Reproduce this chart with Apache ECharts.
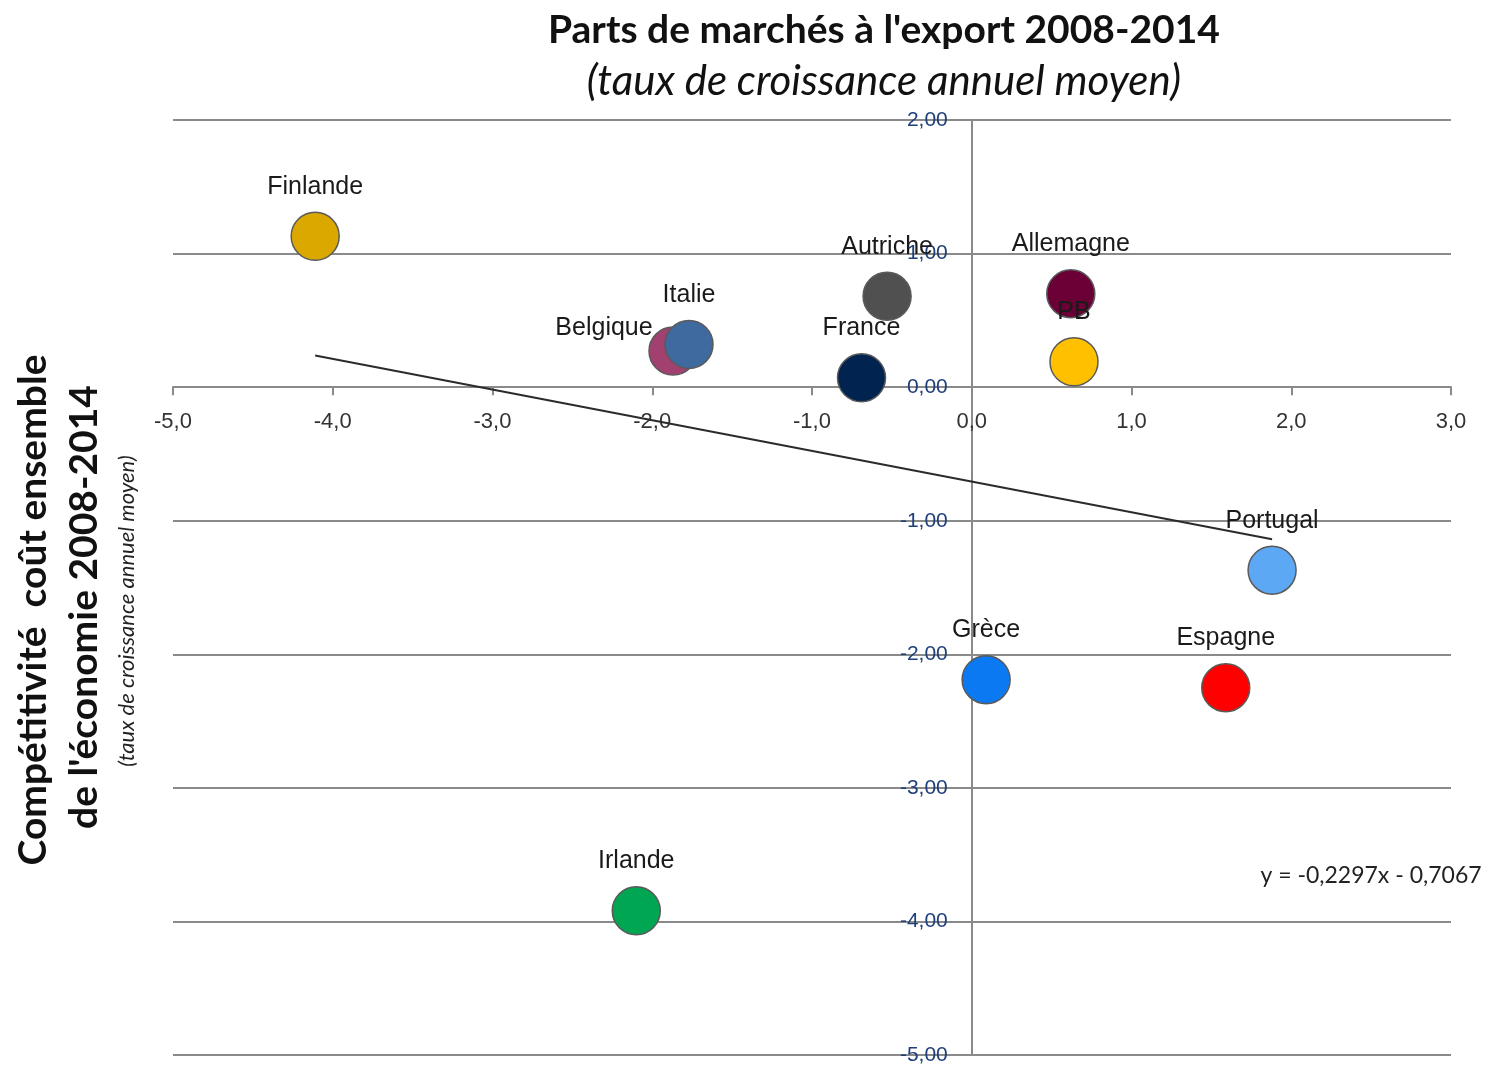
<!DOCTYPE html>
<html>
<head>
<meta charset="utf-8">
<script src="https://cdn.jsdelivr.net/npm/echarts@6/dist/echarts.min.js"></script>
<style>
  html, body { margin: 0; padding: 0; background: #fff; }
  #chart { width: 1492px; height: 1067px; }
</style>
</head>
<body>
<div id="chart"></div>
<script>
// pays et valeurs
const countries = ['Finlande', 'Autriche', 'Allemagne', 'PB', 'Belgique', 'Italie', 'France', 'Portugal', 'Grèce', 'Espagne', 'Irlande'];
const exportShare = [-4.11, -0.53, 0.62, 0.64, -1.87, -1.77, -0.69, 1.88, 0.09, 1.59, -2.10];
const costCompet = [1.13, 0.68, 0.70, 0.19, 0.27, 0.32, 0.07, -1.37, -2.19, -2.25, -3.92];
const colors = ['#DBA800', '#505050', '#6A0036', '#FFC000', '#A2406F', '#3F6A9F', '#00234F', '#5CA8F5', '#0A79F2', '#FF0000', '#00A651'];
const slope = -0.2297;
const intercept = -0.7067;
const xRange = [-5, 3];
const yRange = [-5, 2];

const fmt = (v, d) => v.toFixed(d).replace('.', ',');

// zone de tracé
const W = 1492, H = 1067;
const gridBox = { left: 173, right: 41, top: 120, bottom: 12 };
const plotW = W - gridBox.left - gridBox.right;
const plotH = H - gridBox.top - gridBox.bottom;
// les axes se croisent en 0 : décalage des axes vers l'intérieur
const xAxisOffset = -plotH * (0 - yRange[0]) / (yRange[1] - yRange[0]);
const yAxisOffset = -plotW * (0 - xRange[0]) / (xRange[1] - xRange[0]);

const points = countries.map((name, i) => {
  const item = {
    name: name,
    value: [exportShare[i], costCompet[i]],
    itemStyle: { color: colors[i] }
  };
  if (name === 'Belgique') item.label = { offset: [-69, 26] };
  return item;
});

const xMin = Math.min(...exportShare);
const xMax = Math.max(...exportShare);
const trend = [
  [xMin, slope * xMin + intercept],
  [xMax, slope * xMax + intercept]
];

const chart = echarts.init(document.getElementById('chart'));
chart.setOption({
  backgroundColor: '#fff',
  animation: false,
  title: {
    text: "Parts de marchés à l'export 2008-2014",
    subtext: '(taux de croissance annuel moyen)',
    left: 879,
    textAlign: 'center',
    top: 6,
    itemGap: 10,
    textStyle: { fontFamily: 'Lato', fontWeight: 'bold', fontSize: 39, color: '#111' },
    subtextStyle: { fontFamily: 'Lato', fontStyle: 'italic', fontSize: 42, color: '#111' }
  },
  grid: Object.assign({ outerBoundsMode: 'none', containLabel: false }, gridBox),
  xAxis: {
    type: 'value',
    min: xRange[0],
    max: xRange[1],
    interval: 1,
    position: 'bottom',
    offset: xAxisOffset,
    axisLine: { onZero: false, lineStyle: { color: '#8a8a8a', width: 2 } },
    axisTick: { show: true, length: 8, lineStyle: { color: '#8a8a8a', width: 2 } },
    axisLabel: {
      margin: 24,
      fontFamily: 'Liberation Sans',
      fontSize: 22,
      color: '#333',
      formatter: v => fmt(v, 1)
    },
    splitLine: { show: false }
  },
  yAxis: {
    type: 'value',
    min: yRange[0],
    max: yRange[1],
    interval: 1,
    position: 'left',
    offset: yAxisOffset,
    axisLine: { onZero: false, lineStyle: { color: '#8a8a8a', width: 2 } },
    axisTick: { show: false },
    axisLabel: {
      margin: 24,
      fontFamily: 'Liberation Sans',
      fontSize: 21,
      color: '#1F3F7A',
      formatter: v => fmt(v, 2)
    },
    splitLine: { show: true, lineStyle: { color: '#8a8a8a', width: 2 } }
  },
  series: [
    {
      type: 'line',
      data: trend,
      symbol: 'none',
      silent: true,
      lineStyle: { color: '#2b2b2b', width: 2 },
      z: 3
    },
    {
      type: 'scatter',
      data: points,
      symbolSize: 48,
      itemStyle: { borderColor: '#5a5a5a', borderWidth: 1.5, opacity: 1 },
      label: {
        show: true,
        position: 'top',
        distance: 12,
        formatter: '{b}',
        fontFamily: 'Liberation Sans',
        fontSize: 25,
        color: '#1a1a1a'
      },
      z: 4
    }
  ],
  graphic: [
    {
      type: 'text',
      x: 33,
      y: 610,
      rotation: Math.PI / 2,
      style: {
        text: 'Compétitivité  coût ensemble',
        font: 'bold 39px Lato',
        fill: '#111',
        align: 'center',
        verticalAlign: 'middle'
      }
    },
    {
      type: 'text',
      x: 84,
      y: 607,
      rotation: Math.PI / 2,
      style: {
        text: "de l'économie 2008-2014",
        font: 'bold 39px Lato',
        fill: '#111',
        align: 'center',
        verticalAlign: 'middle'
      }
    },
    {
      type: 'text',
      x: 127,
      y: 611,
      rotation: Math.PI / 2,
      style: {
        text: '(taux de croissance annuel moyen)',
        font: 'italic 22px Lato',
        fill: '#222',
        align: 'center',
        verticalAlign: 'middle'
      }
    },
    {
      type: 'text',
      x: 1371,
      y: 876,
      style: {
        text: 'y = -0,2297x - 0,7067',
        font: '23px Lato',
        fill: '#222',
        align: 'center',
        verticalAlign: 'middle'
      }
    }
  ]
});
</script>
</body>
</html>
